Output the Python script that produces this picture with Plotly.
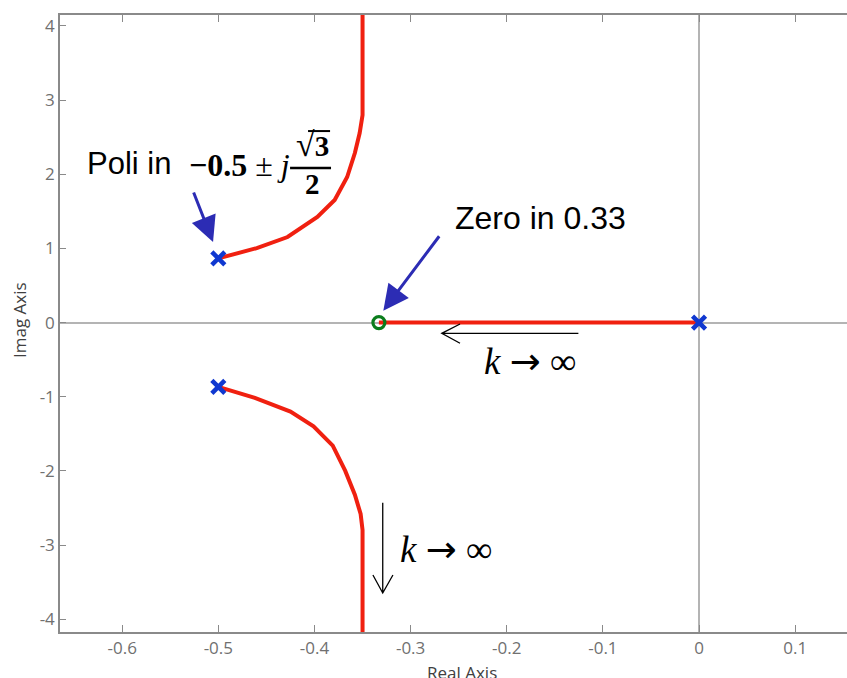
import plotly.graph_objects as go

# ---- data (root locus) ----
upper_re = [-0.500, -0.460, -0.428, -0.397, -0.379, -0.366, -0.358, -0.353, -0.350, -0.350]
upper_im = [0.866, 1.005, 1.154, 1.424, 1.653, 1.963, 2.287, 2.557, 2.799, 4.600]
lower_re = [-0.500, -0.462, -0.425, -0.401, -0.381, -0.368, -0.358, -0.352, -0.350, -0.350]
lower_im = [-0.866, -1.015, -1.200, -1.400, -1.660, -2.000, -2.320, -2.580, -2.798, -4.600]
real_re = [0.0, -0.333]
real_im = [0.0, 0.0]
poles_re = [0.0, -0.5, -0.5]
poles_im = [0.0, 0.866, -0.866]
zeros_re = [-0.333]
zeros_im = [0.0]

x_ticks = [-0.6, -0.5, -0.4, -0.3, -0.2, -0.1, 0.0, 0.1]
x_labels = ["-0.6", "-0.5", "-0.4", "-0.3", "-0.2", "-0.1", "0", "0.1"]
y_ticks = [4, 3, 2, 1, 0, -1, -2, -3, -4]
y_labels = ["4", "3", "2", "1", "0", "-1", "-2", "-3", "-4"]

RED = "#f02010"
BLUE = "#1038d0"
ARROW_BLUE = "#2c2cb4"
GREEN = "#0b7d1c"
AXIS = "#8a8a8a"
TICKFONT = dict(family="Open Sans", size=17, color="#707070")

fig = go.Figure()
for xs, ys in [(upper_re, upper_im), (lower_re, lower_im), (real_re, real_im)]:
    fig.add_trace(go.Scatter(x=xs, y=ys, mode="lines",
                             line=dict(color=RED, width=4), hoverinfo="skip"))
fig.add_trace(go.Scatter(x=poles_re, y=poles_im, mode="markers",
                         marker=dict(symbol="x-thin", size=13,
                                     line=dict(color=BLUE, width=4.5))))
fig.add_trace(go.Scatter(x=zeros_re, y=zeros_im, mode="markers",
                         marker=dict(symbol="circle-open", size=12, color=GREEN,
                                     line=dict(color=GREEN, width=3.2))))

serif = "Liberation Serif"
sans = "Liberation Sans"
ARR = '<span style="font-family:DejaVu Sans">→</span>'
annotations = [
    dict(x=-0.6387, y=2.152, text="Poli in", xanchor="left", yanchor="middle",
         font=dict(family=sans, size=31, color="black"), showarrow=False),
    dict(x=-0.5325, y=2.125, text="<b>−0.5</b> ± <i>j</i>", xanchor="left", yanchor="middle",
         font=dict(family=serif, size=32, color="black"), showarrow=False),
    dict(x=-0.4025, y=2.407, text='<span style="font-size:34px">√</span><b>3</b>',
         xanchor="center", yanchor="middle",
         font=dict(family=serif, size=29, color="black"), showarrow=False),
    dict(x=-0.4025, y=1.868, text="<b>2</b>", xanchor="center", yanchor="middle",
         font=dict(family=serif, size=29, color="black"), showarrow=False),
    dict(x=-0.2559, y=1.410, text="Zero in 0.33", xanchor="left", yanchor="middle",
         font=dict(family=sans, size=32, color="black"), showarrow=False),
    dict(x=-0.2257, y=-0.518, text="<i>k</i> " + ARR + " ∞", xanchor="left", yanchor="middle",
         font=dict(family=serif, size=37, color="black"), showarrow=False),
    dict(x=-0.3131, y=-3.053, text="<i>k</i> " + ARR + " ∞", xanchor="left", yanchor="middle",
         font=dict(family=serif, size=37, color="black"), showarrow=False),
    # blue pointer arrows
    dict(x=-0.5055, y=1.087, ax=-20, ay=-51, text="", showarrow=True,
         arrowhead=2, arrowsize=1.7, arrowwidth=3, arrowcolor=ARROW_BLUE, standoff=0),
    dict(x=-0.3284, y=0.160, ax=57, ay=-76, text="", showarrow=True,
         arrowhead=2, arrowsize=1.7, arrowwidth=3, arrowcolor=ARROW_BLUE, standoff=0),
    # axis titles
    dict(x=0.5108, y=-0.066, xref="paper", yref="paper", text="Real Axis",
         xanchor="center", yanchor="middle", showarrow=False,
         font=dict(family="Open Sans", size=17, color="#404040")),
    dict(x=-0.0508, y=0.5057, xref="paper", yref="paper", text="Imag Axis",
         textangle=-90, xanchor="center", yanchor="middle", showarrow=False,
         font=dict(family="Open Sans", size=17, color="#404040")),
]

shapes = [
    # fraction bar and radical overbar
    dict(type="line", x0=-0.4254, x1=-0.3828, y0=2.084, y1=2.084,
         line=dict(color="black", width=2.5)),
    dict(type="line", x0=-0.4067, x1=-0.3838, y0=2.583, y1=2.583,
         line=dict(color="black", width=2)),
    # black "k -> inf" arrows (open heads)
    dict(type="path", path="M -0.1255,-0.1443 L -0.2676,-0.1443 M -0.2486,-0.019 L -0.2676,-0.1443 L -0.2486,-0.279",
         line=dict(color="black", width=1.3)),
    dict(type="path", path="M -0.329,-2.4286 L -0.329,-3.646 M -0.3392,-3.403 L -0.329,-3.646 L -0.3184,-3.403",
         line=dict(color="black", width=1.3)),
]

fig.update_layout(
    width=847, height=678,
    margin=dict(l=60, r=0, t=15, b=46),
    paper_bgcolor="white", plot_bgcolor="white",
    showlegend=False,
    annotations=annotations, shapes=shapes,
    xaxis=dict(range=[-0.6647, 0.1539], tickvals=x_ticks, ticktext=x_labels,
               showgrid=False, zeroline=True, zerolinecolor="#b4b4b4", zerolinewidth=1.5,
               showline=True, linecolor=AXIS, linewidth=1.5, mirror="ticks",
               ticks="inside", ticklen=7, tickcolor=AXIS, tickwidth=1,
               tickfont=TICKFONT),
    yaxis=dict(range=[-4.172, 4.148], tickvals=y_ticks, ticktext=y_labels,
               showgrid=False, zeroline=True, zerolinecolor="#b4b4b4", zerolinewidth=1.5,
               showline=True, linecolor=AXIS, linewidth=1.5,
               ticks="inside", ticklen=6, tickcolor=AXIS, tickwidth=1,
               tickfont=TICKFONT),
)

fig.write_html("out.html", config={"displayModeBar": False},
               post_script="document.body.style.margin='0px';document.body.style.overflow='hidden';")
